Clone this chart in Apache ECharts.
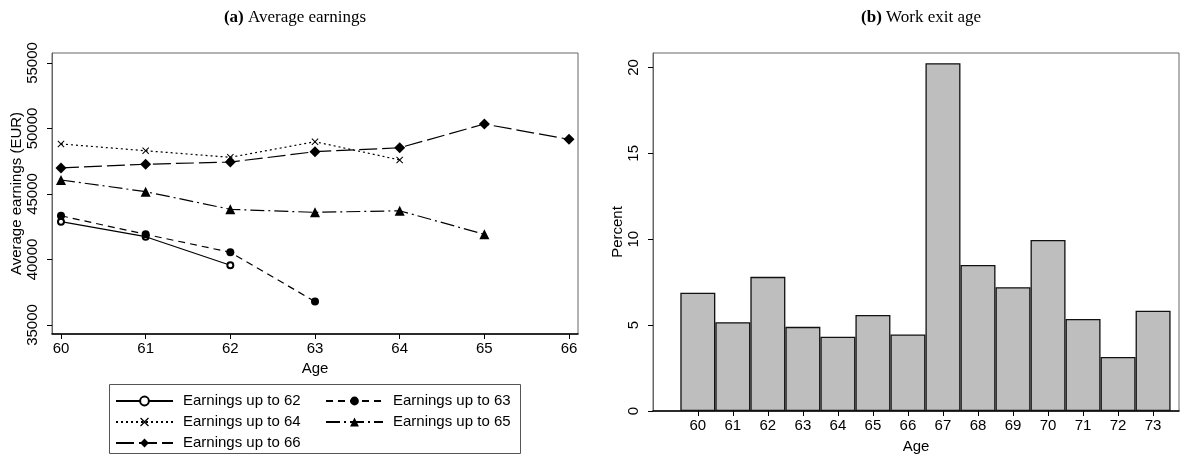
<!DOCTYPE html>
<html>
<head>
<meta charset="utf-8">
<script src="https://cdn.jsdelivr.net/npm/echarts@6/dist/echarts.min.js"></script>
<style>
    html, body { margin: 0; padding: 0; background: #fff; }
    #chart { width: 1184px; height: 459px; }
</style>
</head>
<body>
<div id="chart"></div>
<script>
    // (a) average earnings by age, one line per group
    const ages = [60, 61, 62, 63, 64, 65, 66]
    const earnTicks = [35000, 40000, 45000, 50000, 55000]
    const earn62 = [42890, 41740, 39560]
    const earn63 = [43340, 41920, 40550, 36790]
    const earn64 = [48820, 48300, 47800, 48990, 47600]
    const earn65 = [46070, 45180, 43830, 43600, 43720, 41920]
    const earn66 = [46990, 47270, 47440, 48230, 48530, 50340, 49170]

    // (b) work exit age histogram
    const exitAges = [60, 61, 62, 63, 64, 65, 66, 67, 68, 69, 70, 71, 72, 73]
    const exitPct = [6.89, 5.17, 7.81, 4.90, 4.32, 5.59, 4.46, 20.25, 8.50, 7.21, 9.95, 5.36, 3.14, 5.84]
    const pctTicks = [0, 5, 10, 15, 20]

    const pairs = (vals) => vals.map((v, i) => [ages[i], v])
    const font = 'Liberation Sans, Arial, sans-serif'
    const serif = 'Liberation Serif, Times New Roman, serif'
    const lbl = { color: '#000', fontSize: 15, fontFamily: font }
    const plain = (v) => String(v)

    function lineSeries (name, vals, symbol, size, dash) {
        return {
            name: name,
            type: 'line',
            xAxisIndex: 0,
            yAxisIndex: 0,
            data: pairs(vals),
            symbol: symbol,
            symbolSize: size,
            showSymbol: true,
            lineStyle: { color: '#000', width: 1.2, type: dash },
            itemStyle: { color: '#000', borderColor: '#000', borderWidth: symbol === 'emptyCircle' ? 1 : 0 }
        }
    }

    const xMark = 'path://M0,1L1,0L5,4L9,0L10,1L6,5L10,9L9,10L5,6L1,10L0,9L4,5Z'

    const legendBase = {
        orient: 'vertical', top: 393, padding: 0,
        itemWidth: 57, itemHeight: 11, itemGap: 5,
        textStyle: { ...lbl, lineHeight: 16, padding: [0, 0, 0, 5] },
        selectedMode: false
    }

    const option = {
        animation: false,
        title: [
            {
                text: '{b|(a)} Average earnings',
                left: 290, top: 4, textAlign: 'center',
                textStyle: { fontFamily: serif, fontSize: 17, fontWeight: 'normal', color: '#000',
                    rich: { b: { fontFamily: serif, fontSize: 17, fontWeight: 'bold', color: '#000' } } }
            },
            {
                text: '{b|(b)} Work exit age',
                left: 916, top: 4, textAlign: 'center',
                textStyle: { fontFamily: serif, fontSize: 17, fontWeight: 'normal', color: '#000',
                    rich: { b: { fontFamily: serif, fontSize: 17, fontWeight: 'bold', color: '#000' } } }
            }
        ],
        grid: [
            { left: 52, top: 53, right: 606, bottom: 125, show: true, borderColor: '#666', borderWidth: 1 },
            { left: 653, top: 53, right: 5, bottom: 43, show: true, borderColor: '#666', borderWidth: 1 }
        ],
        legend: [
            { ...legendBase, left: 115, data: ['Earnings up to 62', 'Earnings up to 64', 'Earnings up to 66'] },
            { ...legendBase, left: 325, data: ['Earnings up to 63', 'Earnings up to 65'] }
        ],
        graphic: [
            { type: 'rect', shape: { x: 109.5, y: 384.5, width: 411, height: 69 }, style: { fill: 'none', stroke: '#555', lineWidth: 1 } }
        ],
        xAxis: [
            {
                gridIndex: 0, type: 'value', min: 59.894, max: 66.106,
                name: 'Age', nameLocation: 'middle', nameGap: 26, nameTextStyle: lbl,
                splitLine: { show: false },
                axisLine: { lineStyle: { color: '#000', width: 1.5 } },
                axisTick: { customValues: ages, length: 5, lineStyle: { color: '#000' } },
                axisLabel: { customValues: ages, ...lbl, margin: 7, formatter: plain }
            },
            {
                gridIndex: 1, type: 'value', min: 58.72, max: 73.74,
                name: 'Age', nameLocation: 'middle', nameGap: 28, nameTextStyle: lbl,
                splitLine: { show: false },
                axisLine: { lineStyle: { color: '#000', width: 1.5 } },
                axisTick: { customValues: exitAges, length: 5, lineStyle: { color: '#000' } },
                axisLabel: { customValues: exitAges, ...lbl, margin: 7, formatter: plain }
            }
        ],
        yAxis: [
            {
                gridIndex: 0, type: 'value', min: 34313, max: 55763,
                name: 'Average earnings (EUR)', nameLocation: 'middle', nameGap: 26, nameTextStyle: lbl,
                splitLine: { show: false },
                axisLine: { show: true, lineStyle: { color: '#666', width: 1 } },
                axisTick: { customValues: earnTicks, length: 5, lineStyle: { color: '#000' } },
                axisLabel: { customValues: earnTicks, ...lbl, rotate: 90, margin: 12, formatter: plain }
            },
            {
                gridIndex: 1, type: 'value', min: 0, max: 20.84,
                name: 'Percent', nameLocation: 'middle', nameGap: 26, nameTextStyle: lbl,
                splitLine: { show: false },
                axisLine: { show: true, lineStyle: { color: '#666', width: 1 } },
                axisTick: { customValues: pctTicks, length: 5, lineStyle: { color: '#000' } },
                axisLabel: { customValues: pctTicks, ...lbl, rotate: 90, margin: 12, formatter: plain }
            }
        ],
        series: [
            lineSeries('Earnings up to 62', earn62, 'emptyCircle', 6, 'solid'),
            lineSeries('Earnings up to 63', earn63, 'circle', 8, [7, 5]),
            lineSeries('Earnings up to 64', earn64, xMark, 7, [2, 3]),
            lineSeries('Earnings up to 65', earn65, 'triangle', 10, [14, 4, 2, 4]),
            lineSeries('Earnings up to 66', earn66, 'diamond', 11, [18, 5]),
            {
                type: 'bar',
                xAxisIndex: 1,
                yAxisIndex: 1,
                data: exitAges.map((a, i) => [a, exitPct[i]]),
                barWidth: 35,
                itemStyle: { color: '#bebebe', borderColor: '#111', borderWidth: 1.3 }
            }
        ]
    }

    const myChart = echarts.init(document.getElementById('chart'))
    myChart.setOption(option)
</script>
</body>
</html>
